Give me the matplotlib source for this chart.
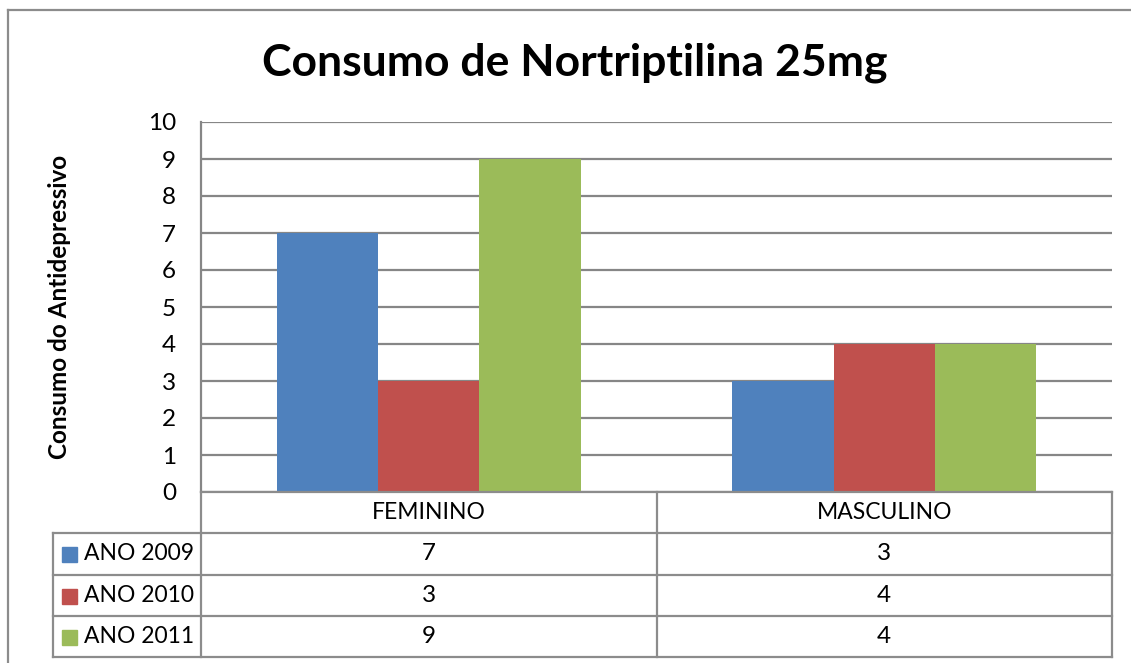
import numpy as np
import matplotlib.pyplot as plt
from matplotlib.lines import Line2D
from matplotlib.patches import Rectangle

# dados do grafico
categorias = ['FEMININO', 'MASCULINO']
series = ['ANO 2009', 'ANO 2010', 'ANO 2011']
valores_2009 = [7, 3]
valores_2010 = [3, 4]
valores_2011 = [9, 4]
cores = ['#4F81BD', '#C0504D', '#9BBB59']
valores = [valores_2009, valores_2010, valores_2011]

W, H = 1131, 663
plt.rcParams['font.family'] = ['Lato', 'DejaVu Sans']
fig = plt.figure(figsize=(W / 100, H / 100), dpi=100)

def fx(px):
    return px / W

def fy(py):
    return (H - py) / H

# area do grafico
ax_l, ax_r, ax_t, ax_b = 201, 1112, 122, 492
ax = fig.add_axes([fx(ax_l), fy(ax_b), fx(ax_r - ax_l), (ax_b - ax_t) / H])

ncat = len(categorias)
largura = 1.0 / (len(series) + 1.5)
x = np.arange(ncat) + 0.5
for i, (s, v, c) in enumerate(zip(series, valores, cores)):
    ax.bar(x + (i - 1) * largura, v, width=largura, color=c, zorder=3, label=s)

ax.set_xlim(0, ncat)
ax.set_ylim(0, 10)
ax.set_yticks(range(0, 11))
ax.yaxis.grid(True, color='#868686', linewidth=1.6, zorder=0)
ax.set_xticks([])
ax.tick_params(axis='y', length=0, pad=18, labelsize=17.5)
for sp in ['top', 'right', 'bottom']:
    ax.spines[sp].set_visible(False)
ax.spines['left'].set_color('#868686')
ax.spines['left'].set_linewidth(1.6)
ax.set_ylabel('Consumo do Antidepressivo', fontsize=17.5, fontweight='bold')
ax.yaxis.set_label_coords((71 - ax_l) / (ax_r - ax_l), 0.5)

fig.text(fx(575), fy(63), 'Consumo de Nortriptilina 25mg', fontsize=32,
         fontweight='bold', ha='center', va='center')

# tabela de dados
gc = '#8C8C8C'
lw = 1.6
tab_l = 53
col_edges = [ax_l + (ax_r - ax_l) * k / ncat for k in range(ncat + 1)]
row_edges = [492, 533, 575, 616, 657]

def hline(x0, x1, y):
    fig.add_artist(Line2D([fx(x0), fx(x1)], [fy(y), fy(y)], color=gc, lw=lw))

def vline(xp, y0, y1):
    fig.add_artist(Line2D([fx(xp), fx(xp)], [fy(y0), fy(y1)], color=gc, lw=lw))

hline(ax_l, ax_r, row_edges[0])
for y in row_edges[1:]:
    hline(tab_l, ax_r, y)
vline(tab_l, row_edges[1], row_edges[-1])
for xe in col_edges:
    vline(xe, row_edges[0], row_edges[-1])

for k, cat in enumerate(categorias):
    cx = (col_edges[k] + col_edges[k + 1]) / 2
    fig.text(fx(cx), fy((row_edges[0] + row_edges[1]) / 2), cat, fontsize=16.5,
             ha='center', va='center')
    for i, v in enumerate(valores):
        cy = (row_edges[i + 1] + row_edges[i + 2]) / 2
        fig.text(fx(cx), fy(cy), str(v[k]), fontsize=17.5, ha='center', va='center')

for i, (s, c) in enumerate(zip(series, cores)):
    cy = (row_edges[i + 1] + row_edges[i + 2]) / 2
    fig.add_artist(Rectangle((fx(62), fy(cy + 8)), fx(15), 15 / H, color=c))
    fig.text(fx(84), fy(cy), s, fontsize=16.5, ha='left', va='center')

# borda externa
fig.add_artist(Line2D([fx(8), fx(8)], [fy(10), 0], color=gc, lw=1.6))
fig.add_artist(Line2D([fx(8), 1], [fy(10), fy(10)], color=gc, lw=1.6))

fig.savefig('out.png', dpi=100)
